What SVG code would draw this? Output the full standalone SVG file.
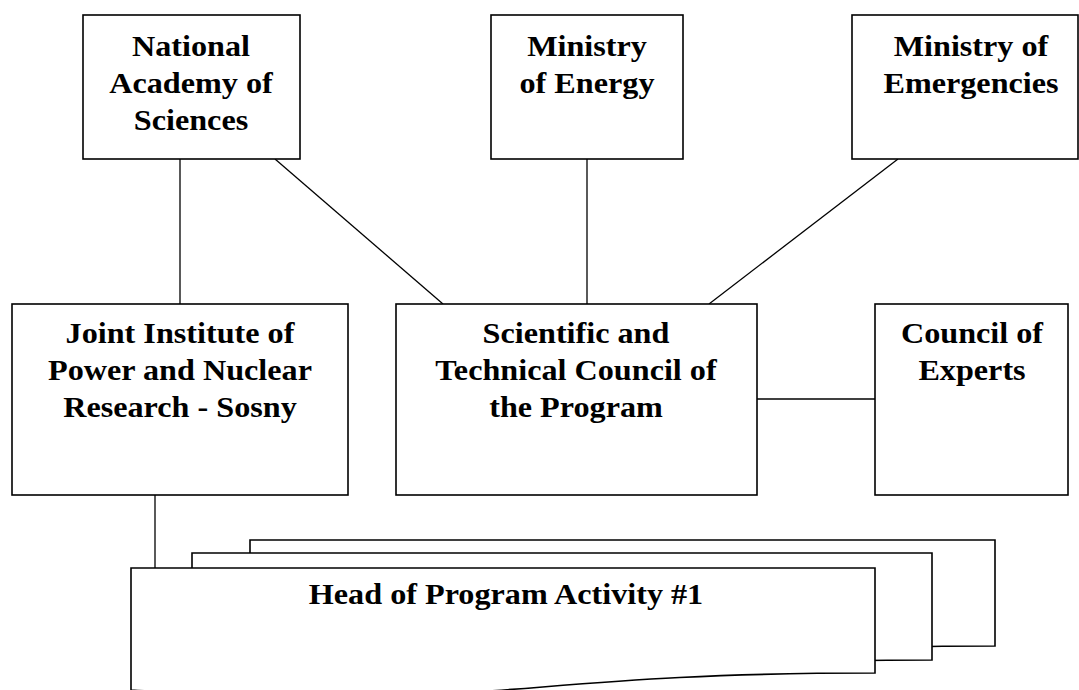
<svg xmlns="http://www.w3.org/2000/svg" width="1079" height="690" viewBox="0 0 1079 690">
<style>
.box{fill:#fff;stroke:#000;stroke-width:1.6}
.con{fill:none;stroke:#000;stroke-width:1.3}
.t{font-family:"Liberation Serif","Times New Roman",serif;font-weight:bold;font-size:29px;fill:#000;text-anchor:middle}
</style>
<rect width="1079" height="690" fill="#fff"/>
<g id="connectors">
<line class="con" x1="180" y1="159" x2="180" y2="304"/>
<line class="con" x1="275" y1="159" x2="443" y2="304"/>
<line class="con" x1="587" y1="159" x2="587" y2="304"/>
<line class="con" x1="898" y1="159" x2="709" y2="304"/>
<line class="con" x1="757" y1="399" x2="875" y2="399"/>
<line class="con" x1="155" y1="495" x2="155" y2="568"/>
</g>
<g id="nas">
<rect class="box" x="83" y="15" width="217" height="144"/>
<g transform="translate(191 0) scale(1.11 1)"><text class="t" x="0" y="56">National</text><text class="t" x="0" y="93">Academy of</text><text class="t" x="0" y="130">Sciences</text></g>
</g>
<g id="energy">
<rect class="box" x="491" y="15" width="192" height="144"/>
<g transform="translate(587 0) scale(1.11 1)"><text class="t" x="0" y="56">Ministry</text><text class="t" x="0" y="93">of Energy</text></g>
</g>
<g id="emergencies">
<rect class="box" x="852" y="15" width="226" height="144"/>
<g transform="translate(971 0) scale(1.11 1)"><text class="t" x="0" y="56">Ministry of</text><text class="t" x="0" y="93">Emergencies</text></g>
</g>
<g id="joint">
<rect class="box" x="12" y="304" width="336" height="191"/>
<g transform="translate(180 0) scale(1.11 1)"><text class="t" x="0" y="343">Joint Institute of</text><text class="t" x="0" y="380">Power and Nuclear</text><text class="t" x="0" y="417">Research - Sosny</text></g>
</g>
<g id="council">
<rect class="box" x="396" y="304" width="361" height="191"/>
<g transform="translate(576 0) scale(1.11 1)"><text class="t" x="0" y="343">Scientific and</text><text class="t" x="0" y="380">Technical Council of</text><text class="t" x="0" y="417">the Program</text></g>
</g>
<g id="experts">
<rect class="box" x="875" y="304" width="193" height="191"/>
<g transform="translate(972 0) scale(1.11 1)"><text class="t" x="0" y="343">Council of</text><text class="t" x="0" y="380">Experts</text></g>
</g>
<g id="head-activity">
<path class="box" d="M250,540 H995 V646 C622,646 622,686 250,664 Z"/>
<path class="box" d="M192,553 H932 V660 C562,660 562,701 192,678 Z"/>
<path class="box" d="M131,568 H875 V673 C503,673 503,713 131,690 Z"/>
<g transform="translate(506 0) scale(1.11 1)"><text class="t" x="0" y="604">Head of Program Activity #1</text></g>
</g>
</svg>
